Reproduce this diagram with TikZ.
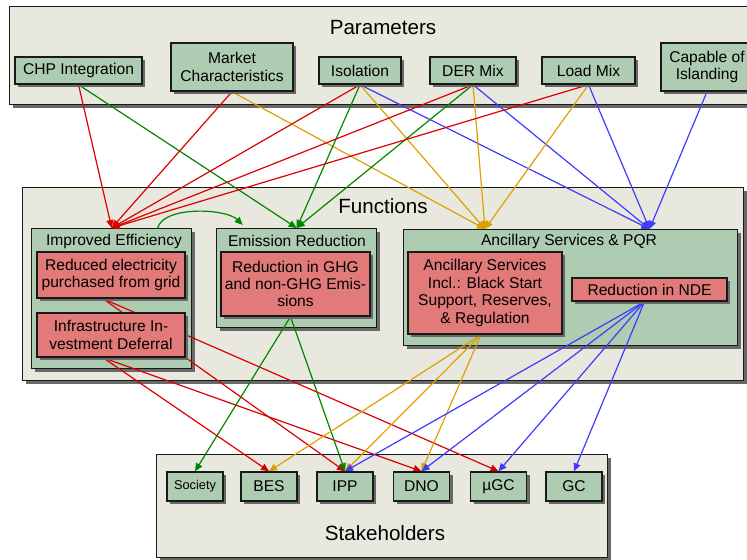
\documentclass[tikz,border=0pt]{standalone}
\usepackage{fontspec}
\setmainfont{Liberation Sans}
\usetikzlibrary{arrows.meta,shadows}

\definecolor{framebg}{RGB}{232,232,222}
\definecolor{boxgreen}{RGB}{174,204,177}
\definecolor{boxred}{RGB}{226,122,122}
\definecolor{shadegray}{RGB}{105,105,105}
\definecolor{wred}{RGB}{220,0,0}
\definecolor{wgreen}{RGB}{0,135,0}
\definecolor{wgold}{RGB}{222,160,0}
\definecolor{wblue}{RGB}{60,60,255}

\pgfdeclarelayer{back}
\pgfdeclarelayer{wires}
\pgfsetlayers{back,wires,main}

\tikzset{
  boxsize/.style 2 args={minimum width=#1*0.5pt, minimum height=#2*0.5pt},
  shadowed/.style={drop shadow={shadow xshift=1.5pt, shadow yshift=-1.5pt, fill=shadegray, opacity=1}},
  framebox/.style={shadowed, draw=black!90, line width=0.7pt, fill=framebg, inner sep=0pt, anchor=north west},
  groupbox/.style={shadowed, draw=black!90, line width=0.7pt, fill=boxgreen, inner sep=0pt, anchor=north west},
  parambox/.style={shadowed, draw=black!90, line width=0.7pt, fill=boxgreen, inner sep=0pt, align=center, font=\fontsize{7.8}{8.7}\selectfont},
  itembox/.style={parambox, fill=boxred},
  actorbox/.style={parambox, boxsize={56}{29}},
  headtext/.style={font=\fontsize{10.3}{12}\selectfont},
  subtext/.style={font=\fontsize{7.8}{8.7}\selectfont},
  wire/.style={color=#1, line width=0.6pt, -{Triangle[length=4pt, width=3.5pt]}},
}

\begin{document}
\begin{tikzpicture}[x=0.5pt, y=-0.5pt]
    \useasboundingbox (0,0) rectangle (747,560);

    \begin{pgfonlayer}{back}
    \node[framebox, boxsize={760}{98}] (paramframe) at (9,6) {};
    \node[framebox, boxsize={721}{193}] (funcframe) at (22,187) {};
    \node[framebox, boxsize={451}{103}] (stakeframe) at (156,454) {};
    \node[headtext] (paramtitle) at (383,28) {Parameters};
    \node[headtext] (functitle) at (383,206) {Functions};
    \node[headtext] (staketitle) at (385,533) {Stakeholders};
    \node[groupbox, boxsize={160}{140}] (ie) at (31,228) {};
    \node[groupbox, boxsize={160}{99}] (er) at (216,228) {};
    \node[groupbox, boxsize={334}{116}] (anc) at (403,229) {};
    \node[subtext] (ietitle) at (114,241) {Improved Efficiency};
    \node[subtext] (ertitle) at (297,241) {Emission Reduction};
    \node[subtext] (anctitle) at (569,241) {Ancillary Services \& PQR};
    \end{pgfonlayer}

    \node[parambox, boxsize={127}{27}] (chp) at (78.5,70.5) {CHP Integration};
    \node[parambox, boxsize={122}{48}] (market) at (232,67) {Market\\Characteristics};
    \node[parambox, boxsize={82}{27}] (iso) at (360,70.5) {Isolation};
    \node[parambox, boxsize={86}{27}] (der) at (473,70.5) {DER Mix};
    \node[parambox, boxsize={93}{27}] (load) at (588.5,70.5) {Load Mix};
    \node[parambox, boxsize={92}{48}] (island) at (707,67) {Capable of\\Islanding};

    \node[itembox, boxsize={148}{46}] (redelec) at (111,275) {Reduced electricity\\purchased from grid};
    \node[itembox, boxsize={148}{44}] (infra) at (111,335) {Infrastructure In-\\vestment Deferral};
    \node[itembox, boxsize={149}{64}] (ghg) at (295.5,284) {Reduction in GHG\\and non-GHG Emis-\\sions};
    \node[itembox, boxsize={154}{82}] (ancserv) at (485,293) {Ancillary Services\\Incl.: Black Start\\Support, Reserves,\\\& Regulation};
    \node[itembox, boxsize={155}{23}] (nde) at (649.5,289.5) {Reduction in NDE};

    \node[actorbox, font=\fontsize{6.4}{7.5}\selectfont] (society) at (195,486.5) {Society};
    \node[actorbox] (bes) at (269,486.5) {BES};
    \node[actorbox] (ipp) at (345,486.5) {IPP};
    \node[actorbox] (dno) at (421.5,486.5) {DNO};
    \node[actorbox] (mugc) at (498.5,486.5) {µGC};
    \node[actorbox] (gc) at (574,486.5) {GC};

    \begin{pgfonlayer}{wires}
    \coordinate (ancgold) at (anc.north -| ancserv.north);
    \coordinate (ancblue) at (anc.north -| nde.north);
    \draw[wire=wred] (chp.south) -- (ie.north);
    \draw[wire=wgreen] (chp.south) -- (er.north);
    \draw[wire=wred] (market.south) -- (ie.north);
    \draw[wire=wgold] (market.south) -- (ancgold);
    \draw[wire=wred] (iso.south) -- (ie.north);
    \draw[wire=wgreen] (iso.south) -- (er.north);
    \draw[wire=wgold] (iso.south) -- (ancgold);
    \draw[wire=wblue] (iso.south) -- (ancblue);
    \draw[wire=wred] (der.south) -- (ie.north);
    \draw[wire=wgreen] (der.south) -- (er.north);
    \draw[wire=wgold] (der.south) -- (ancgold);
    \draw[wire=wblue] (der.south) -- (ancblue);
    \draw[wire=wred] (load.south) -- (ie.north);
    \draw[wire=wgold] (load.south) -- (ancgold);
    \draw[wire=wblue] (load.south) -- (ancblue);
    \draw[wire=wblue] (island.south) -- (ancblue);
    \draw[wire=wgreen] ([xshift=23pt]ie.north) to[out=75, in=135, looseness=0.7] ([shift={(-27pt,1.5pt)}]er.north);

    \draw[wire=wred] ([xshift=-4pt]redelec.south) -- (ipp.north);
    \draw[wire=wred] ([xshift=-4pt]redelec.south) -- (mugc.north);
    \draw[wire=wred] ([xshift=-4pt]infra.south) -- (bes.north);
    \draw[wire=wred] ([xshift=-4pt]infra.south) -- (dno.north);
    \draw[wire=wgreen] ([xshift=-2.5pt]ghg.south) -- (society.north);
    \draw[wire=wgreen] ([xshift=-2.5pt]ghg.south) -- (ipp.north);
    \draw[wire=wgold] ([xshift=-2pt]ancserv.south) -- (bes.north);
    \draw[wire=wgold] ([xshift=-2pt]ancserv.south) -- (ipp.north);
    \draw[wire=wgold] ([xshift=-2pt]ancserv.south) -- (dno.north);
    \draw[wire=wblue] ([xshift=-2.5pt]nde.south) -- (ipp.north);
    \draw[wire=wblue] ([xshift=-2.5pt]nde.south) -- (dno.north);
    \draw[wire=wblue] ([xshift=-2.5pt]nde.south) -- (mugc.north);
    \draw[wire=wblue] ([xshift=-2.5pt]nde.south) -- (gc.north);
    \end{pgfonlayer}
\end{tikzpicture}
\end{document}
